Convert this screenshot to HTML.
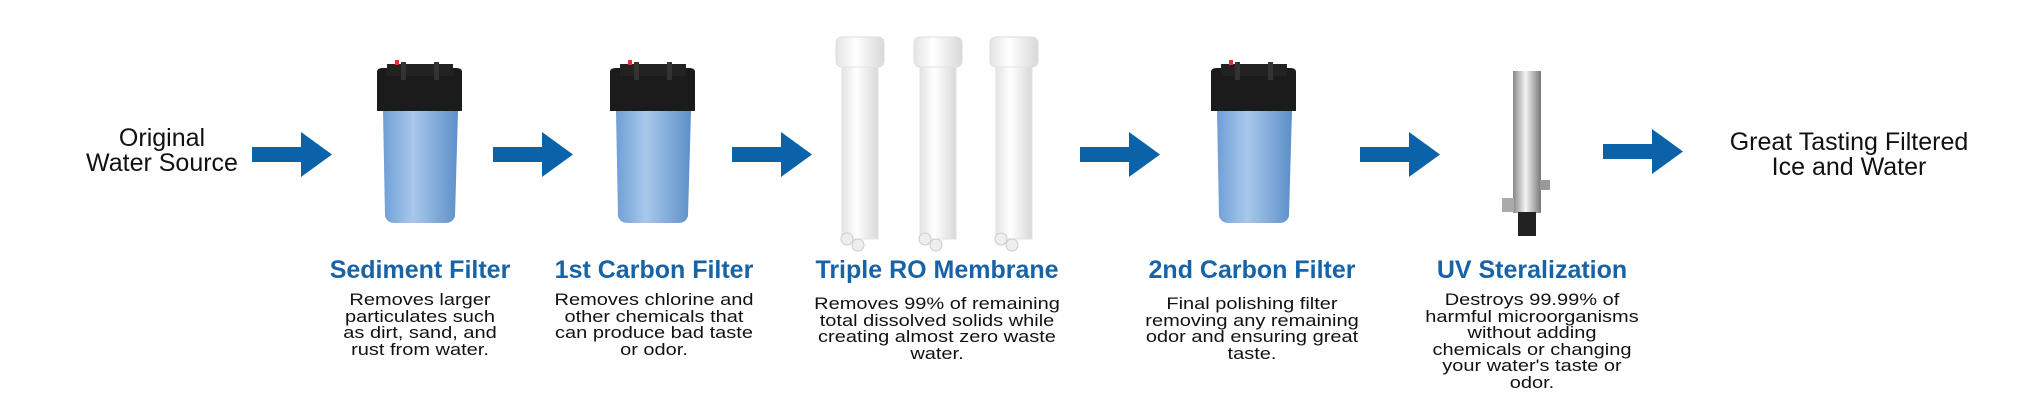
<!DOCTYPE html>
<html><head><meta charset="utf-8"><style>
body{margin:0;width:2035px;height:410px;background:#fff;position:relative;overflow:hidden;font-family:"Liberation Sans Narrow","Liberation Sans",sans-serif;}
.t{position:absolute;text-align:center;transform:translateX(-50%);white-space:nowrap;}
.big{font-size:25px;line-height:25px;color:#111;}
.h{font-size:25px;font-weight:bold;color:#1763a6;top:256px;}
.d{font-size:20px;line-height:19.6px;color:#111;transform:translateX(-50%) scaleY(0.85);transform-origin:50% 0;}
svg{position:absolute;left:0;top:0;}
</style></head><body>
<svg width="2035" height="410">
<defs>
<linearGradient id="bl" x1="0" x2="1"><stop offset="0" stop-color="#6f9fd6"/><stop offset=".4" stop-color="#a8c8ec"/><stop offset="1" stop-color="#5d8fc9"/></linearGradient>
<linearGradient id="wh" x1="0" x2="1"><stop offset="0" stop-color="#e4e4e4"/><stop offset=".4" stop-color="#ffffff"/><stop offset="1" stop-color="#d8d8d8"/></linearGradient>
<linearGradient id="st" x1="0" x2="1"><stop offset="0" stop-color="#888"/><stop offset=".45" stop-color="#f4f4f4"/><stop offset="1" stop-color="#777"/></linearGradient>
<g id="arr"><path d="M0,15 H49 V0 L80,22.5 L49,45 V30 H0 Z" fill="#0a62a8"/></g>
<g id="flt">
<path d="M8,47 H83 L80,152 Q78,159 70,159 H20 Q12,159 10,152 Z" fill="url(#bl)"/>
<path d="M2,8 Q2,4 8,4 H81 Q87,4 87,8 V47 H2 Z" fill="#1b1b1b"/>
<path d="M12,0 H78 V12 H12Z" fill="#222"/>
<rect x="20" y="-4" width="4" height="5" fill="#d33"/>
<rect x="26" y="-2" width="5" height="18" fill="#333"/><rect x="59" y="-2" width="5" height="18" fill="#333"/>
</g>
<g id="ro">
<rect x="2" y="0" width="48" height="30" rx="6" fill="url(#wh)" stroke="#ddd"/>
<rect x="8" y="30" width="36" height="172" fill="url(#wh)" stroke="#e2e2e2"/>
<circle cx="13" cy="202" r="6" fill="#eee" stroke="#ccc"/><circle cx="24" cy="208" r="6" fill="#eee" stroke="#ccc"/>
</g>
</defs>
<use href="#arr" x="252" y="132"/>
<use href="#arr" x="493" y="132"/>
<use href="#arr" x="732" y="132"/>
<use href="#arr" x="1080" y="132"/>
<use href="#arr" x="1360" y="132"/>
<use href="#arr" x="1603" y="129"/>
<use href="#flt" x="375" y="64"/>
<use href="#flt" x="608" y="64"/>
<use href="#flt" x="1209" y="64"/>
<use href="#ro" x="834" y="37"/>
<use href="#ro" x="912" y="37"/>
<use href="#ro" x="988" y="37"/>
<rect x="1513" y="71" width="28" height="142" fill="url(#st)"/>
<rect x="1502" y="198" width="12" height="14" fill="#aaa"/>
<rect x="1540" y="180" width="10" height="10" fill="#999"/>
<rect x="1518" y="212" width="18" height="24" fill="#222"/>
</svg>
<div class="t big" style="left:162px;top:126px">Original<br>Water Source</div>
<div class="t big" style="left:1849px;top:130px">Great Tasting Filtered<br>Ice and Water</div>
<div class="t h" style="left:420px">Sediment Filter</div>
<div class="t h" style="left:654px">1st Carbon Filter</div>
<div class="t h" style="left:937px">Triple RO Membrane</div>
<div class="t h" style="left:1252px">2nd Carbon Filter</div>
<div class="t h" style="left:1532px">UV Steralization</div>
<div class="t d" style="left:420px;top:292px">Removes larger<br>particulates such<br>as dirt, sand, and<br>rust from water.</div>
<div class="t d" style="left:654px;top:292px">Removes chlorine and<br>other chemicals that<br>can produce bad taste<br>or odor.</div>
<div class="t d" style="left:937px;top:296px">Removes 99% of remaining<br>total dissolved solids while<br>creating almost zero waste<br>water.</div>
<div class="t d" style="left:1252px;top:296px">Final polishing filter<br>removing any remaining<br>odor and ensuring great<br>taste.</div>
<div class="t d" style="left:1532px;top:292px">Destroys 99.99% of<br>harmful microorganisms<br>without adding<br>chemicals or changing<br>your water's taste or<br>odor.</div>
</body></html>
